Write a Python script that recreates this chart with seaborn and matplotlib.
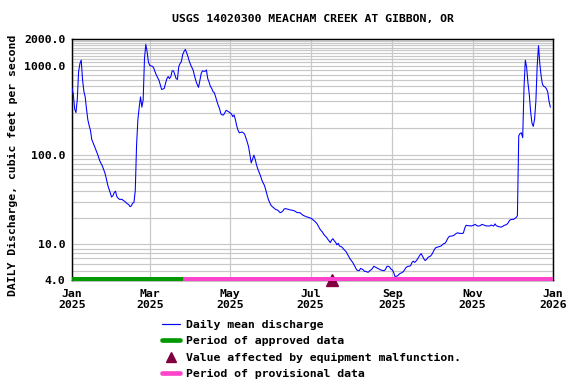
import matplotlib
matplotlib.use("Agg")
import matplotlib.pyplot as plt
import matplotlib.ticker as mticker
from matplotlib.lines import Line2D
import seaborn as sns
import pandas as pd
import numpy as np

# ---------------- data ----------------
title = "USGS 14020300 MEACHAM CREEK AT GIBBON, OR"
ylabel = "DAILY Discharge, cubic feet per second"
start_date = "2025-01-01"
# daily mean discharge (cfs), one value per day from 2025-01-01
flow_cfs = [
    560, 480, 330, 300, 420, 860, 1060, 1160, 700, 520,
    450, 330, 250, 215, 190, 150, 138, 126, 116, 106,
    97, 87, 81, 76, 69, 63, 55, 47, 42, 38,
    34, 35, 38, 39.5, 34.5, 33, 32, 32, 32, 31,
    30.5, 29.5, 28.5, 28, 26.5, 27, 29, 29.5, 40, 130,
    250, 345, 450, 345, 415, 1200, 1740, 1440, 1100, 1010,
    1000, 990, 950, 860, 790, 740, 690, 610, 545, 550,
    560, 640, 720, 760, 720, 760, 880, 880, 800, 720,
    705, 980, 1060, 1120, 1340, 1450, 1530, 1400, 1270, 1130,
    1030, 960, 890, 770, 680, 620, 575, 680, 820, 880,
    870, 870, 900, 720, 660, 590, 560, 515, 500, 450,
    400, 360, 330, 290, 282, 282, 300, 318, 312, 305,
    298, 290, 270, 282, 250, 213, 190, 178, 180, 182,
    178, 172, 155, 140, 124, 100, 82, 90, 100, 90,
    78, 70, 64, 59, 53, 49, 46, 41, 36, 32,
    29.5, 27.5, 26.5, 25.8, 25, 24.5, 24.3, 23.5, 22.7, 23,
    23.7, 25, 25.2, 25, 24.8, 24.5, 24.3, 24.2, 24, 23.7,
    23.2, 22.7, 22.7, 22.7, 22, 21.4, 21, 20.7, 20.4, 20.2,
    20, 19.7, 19.4, 18.8, 18.3, 17.7, 17, 16, 15, 14.3,
    13.8, 13, 12.5, 12.1, 11.5, 11, 10.5, 11.2, 11.6, 11,
    10.6, 9.9, 10.3, 9.6, 9.5, 9.3, 8.9, 8.6, 8.3, 7.8,
    7.3, 6.9, 6.6, 6.3, 5.9, 5.5, 5.2, 5.1, 5.1, 5.4,
    5.3, 5.2, 5.0, 5.0, 4.9, 4.9, 5.1, 5.2, 5.4, 5.7,
    5.6, 5.5, 5.4, 5.3, 5.2, 5.15, 5.1, 5.1, 5.3, 5.7,
    5.7, 5.6, 5.3, 5.2, 4.9, 4.4, 4.4, 4.45, 4.6, 4.75,
    4.8, 4.9, 5.1, 5.4, 5.6, 5.7, 5.7, 5.8, 6.3, 6.5,
    6.3, 6.5, 6.8, 7.2, 7.6, 7.9, 7.4, 6.9, 6.6, 6.8,
    7.1, 7.3, 7.4, 7.7, 8.2, 8.8, 9.2, 9.3, 9.4, 9.5,
    9.6, 9.9, 10.2, 10.3, 10.8, 11.6, 12.2, 12.4, 12.4, 12.5,
    12.7, 13.1, 13.4, 13.5, 13.3, 13.3, 13.3, 13.4, 15.2, 16.4,
    16.3, 16.2, 16.2, 16.1, 16.3, 16.5, 16.8, 16.3, 16.1, 16.1,
    16.3, 16.8, 16.6, 16.4, 16.2, 16.1, 16.1, 16.1, 16.5, 16.3,
    16.1, 17.0, 16.2, 16.0, 15.8, 15.7, 15.7, 16.0, 16.4, 16.5,
    16.8, 17.5, 18.6, 19, 19.1, 19.1, 19.5, 20, 21, 165,
    175, 178, 157, 570, 1160, 960, 645, 480, 310, 230,
    210, 252, 400, 1000, 1680, 1050, 770, 620, 590, 580,
    555, 510, 400, 345,
]
approved_period = ("2025-01-01", "2025-03-26")
provisional_period = ("2025-03-26", "2026-01-01")
malfunction_dates = ["2025-07-17"]
malfunction_values = [4.0]

x_ticks = ["2025-01-01", "2025-03-01", "2025-05-01", "2025-07-01",
           "2025-09-01", "2025-11-01", "2026-01-01"]
x_tick_labels = ["Jan\n2025", "Mar\n2025", "May\n2025", "Jul\n2025",
                 "Sep\n2025", "Nov\n2025", "Jan\n2026"]
y_ticks = [4, 10, 100, 1000, 2000]
y_tick_labels = ["4.0", "10.0", "100.0", "1000.0", "2000.0"]
y_minor = [5, 6, 7, 8, 9, 20, 30, 40, 50, 60, 70, 80, 90,
           200, 300, 400, 500, 600, 700, 800, 900,
           1100, 1200, 1300, 1400, 1500, 1600, 1700, 1800, 1900]

legend_labels = ["Daily mean discharge", "Period of approved data",
                 "Value affected by equipment malfunction.",
                 "Period of provisional data"]

# ---------------- style ----------------
sns.set_theme(style="white")
FONT = ["DejaVu Sans Mono"]
plt.rcParams["font.family"] = FONT
plt.rcParams["font.weight"] = "bold"
for key in ["text.color", "axes.labelcolor", "xtick.color", "ytick.color"]:
    plt.rcParams[key] = "black"
FS = 8.6

line_color = "#0000ff"
green = "#009900"
pink = "#ff44cc"
maroon = "#800040"
grid_color = "#c8c8c8"

df = pd.DataFrame({
    "date": pd.date_range(start_date, periods=len(flow_cfs), freq="D"),
    "flow": flow_cfs,
})

fig = plt.figure(figsize=(6, 4), dpi=96)
ax = fig.add_axes([72 / 576, 1 - 280 / 384, (553 - 72) / 576, (280 - 39) / 384])

sns.lineplot(data=df, x="date", y="flow", ax=ax, color=line_color,
             linewidth=0.8, zorder=3)

ax.set_yscale("log")
ax.set_ylim(4, 2000)
ax.set_xlim(pd.Timestamp(x_ticks[0]), pd.Timestamp(x_ticks[-1]))

ax.yaxis.set_major_locator(mticker.FixedLocator(y_ticks))
ax.yaxis.set_major_formatter(mticker.FixedFormatter(y_tick_labels))
ax.yaxis.set_minor_locator(mticker.FixedLocator(y_minor))
ax.yaxis.set_minor_formatter(mticker.NullFormatter())
ax.set_xticks([pd.Timestamp(t) for t in x_ticks])
ax.set_xticklabels(x_tick_labels, linespacing=1.1)

ax.grid(True, which="both", axis="y", color=grid_color, linewidth=0.9)
ax.grid(True, which="major", axis="x", color=grid_color, linewidth=0.9)
ax.set_axisbelow(True)
ax.tick_params(axis="both", which="both", length=0, labelsize=FS,
               labelcolor="black")
ax.tick_params(axis="x", pad=7)
ax.tick_params(axis="y", pad=5)
for lab in ax.get_xticklabels() + ax.get_yticklabels():
    lab.set_fontweight("bold")
    lab.set_fontfamily(FONT)
ax.set_xlabel("")
ax.set_ylabel(ylabel, fontsize=FS, fontweight="bold", color="black")
ax.yaxis.set_label_coords(-0.112, 0.475)

for s in ax.spines.values():
    s.set_color("black")
    s.set_linewidth(1.1)

# malfunction marker (under the status band)
ax.plot([pd.Timestamp(d) for d in malfunction_dates], malfunction_values,
        linestyle="none", marker="^", markersize=8.5, color=maroon,
        clip_on=False, zorder=4)
# status bands
ax.plot([pd.Timestamp(approved_period[0]), pd.Timestamp(approved_period[1])],
        [4.1, 4.1], color=green, linewidth=3, solid_capstyle="butt",
        clip_on=False, zorder=5)
ax.plot([pd.Timestamp(provisional_period[0]), pd.Timestamp(provisional_period[1])],
        [4.1, 4.1], color=pink, linewidth=3, solid_capstyle="butt",
        clip_on=False, zorder=5)

fig.text(313 / 576, 1 - 19 / 384, title, ha="center", va="center",
         fontsize=FS, fontweight="bold", color="black")

handles = [
    Line2D([], [], color=line_color, linewidth=0.9),
    Line2D([], [], color=green, linewidth=3.5),
    Line2D([], [], color=maroon, marker="^", markersize=8, linestyle="none"),
    Line2D([], [], color=pink, linewidth=3.5),
]
leg = fig.legend(handles, legend_labels, loc="upper left",
                 bbox_to_anchor=(162 / 576, 1 - 320 / 384), frameon=False,
                 prop={"family": FONT, "weight": "bold", "size": FS},
                 handlelength=1.6, handletextpad=0.45, labelspacing=0.55,
                 borderpad=0.0, borderaxespad=0.0)
for t in leg.get_texts():
    t.set_color("black")

fig.savefig("out.png", dpi=96)
